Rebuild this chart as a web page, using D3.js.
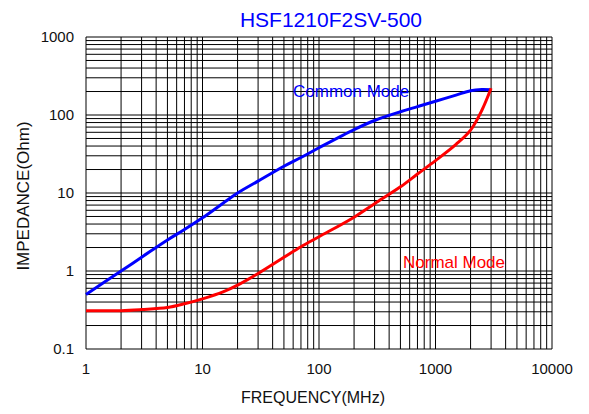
<!DOCTYPE html>
<html>
<head>
<meta charset="utf-8">
<script src="https://cdn.jsdelivr.net/npm/d3@7"></script>
<style>
  body { margin: 0; background: #fff; }
  text { font-family: "Liberation Sans", Arial, sans-serif; }
</style>
</head>
<body>
<div id="chart"></div>
<script>
const freq = [1, 2, 3, 5, 7, 10, 15, 20, 30, 50, 70, 100, 200, 300, 500, 700, 1000, 1500, 2000, 2500, 3000];
const commonMode = [0.5, 1.0, 1.5, 2.5, 3.4, 4.8, 7.4, 10, 14.2, 22, 28.5, 38, 65, 85, 110, 128, 150, 180, 205, 212, 210];
const normalMode = [0.31, 0.31, 0.32, 0.34, 0.38, 0.44, 0.54, 0.66, 0.93, 1.5, 2.05, 2.75, 4.9, 7.3, 12, 17.5, 26, 42, 64, 115, 220];
const xTicks = [1, 10, 100, 1000, 10000];
const yTicks = [0.1, 1, 10, 100, 1000];

const width = 589, height = 414;
const margin = { top: 37, right: 37, bottom: 65, left: 86 };

const svg = d3.select('#chart').append('svg').attr('width', width).attr('height', height);

const x = d3.scaleLog().domain([1, 10000]).range([margin.left, width - margin.right]);
const y = d3.scaleLog().domain([0.1, 1000]).range([height - margin.bottom, margin.top]);

// grid lines: every 1..9 in each decade
const xGrid = [];
for (let d = 1; d < 10000; d *= 10) for (let k = 1; k < 10; k++) xGrid.push(d * k);
xGrid.push(10000);
const yGrid = [];
for (let d = 0.1; d < 999; d *= 10) for (let k = 1; k < 10; k++) yGrid.push(+(d * k).toPrecision(3));
yGrid.push(1000);

const grid = svg.append('g').attr('stroke', '#000').attr('stroke-width', 1);
grid.selectAll('line.v').data(xGrid).enter().append('line')
  .attr('class', 'v')
  .attr('x1', (d) => x(d)).attr('x2', (d) => x(d))
  .attr('y1', y(0.1)).attr('y2', y(1000));
grid.selectAll('line.h').data(yGrid).enter().append('line')
  .attr('class', 'h')
  .attr('x1', x(1)).attr('x2', x(10000))
  .attr('y1', (d) => y(d)).attr('y2', (d) => y(d));

// tick labels
svg.append('g').selectAll('text').data(xTicks).enter().append('text')
  .attr('x', (d) => x(d)).attr('y', y(0.1) + 25)
  .attr('text-anchor', 'middle').attr('font-size', 15).attr('fill', '#111')
  .text((d) => d);
svg.append('g').selectAll('text').data(yTicks).enter().append('text')
  .attr('x', x(1) - 12).attr('y', (d) => y(d) + 5)
  .attr('text-anchor', 'end').attr('font-size', 15).attr('fill', '#111')
  .text((d) => d);

// curves
const line = d3.line()
  .x((d) => x(d[0]))
  .y((d) => y(d[1]))
  .curve(d3.curveCatmullRom.alpha(0.5));

svg.append('path')
  .datum(freq.map((f, i) => [f, commonMode[i]]))
  .attr('d', line).attr('fill', 'none').attr('stroke', '#0000ff').attr('stroke-width', 3);
svg.append('path')
  .datum(freq.map((f, i) => [f, normalMode[i]]))
  .attr('d', line).attr('fill', 'none').attr('stroke', '#ff0000').attr('stroke-width', 3);

// labels
svg.append('text').attr('x', 293).attr('y', 97).attr('font-size', 17).attr('fill', '#0000ff').text('Common Mode');
svg.append('text').attr('x', 403).attr('y', 268).attr('font-size', 17).attr('fill', '#ff0000').text('Normal Mode');

svg.append('text').attr('x', 331).attr('y', 27).attr('text-anchor', 'middle')
  .attr('font-size', 21).attr('fill', '#0000ff').text('HSF1210F2SV-500');

svg.append('text').attr('x', 313).attr('y', 403).attr('text-anchor', 'middle')
  .attr('font-size', 16).attr('fill', '#111').text('FREQUENCY(MHz)');

svg.append('text').attr('transform', 'translate(29,196) rotate(-90)').attr('text-anchor', 'middle')
  .attr('font-size', 17).attr('fill', '#111').text('IMPEDANCE(Ohm)');
</script>
</body>
</html>
